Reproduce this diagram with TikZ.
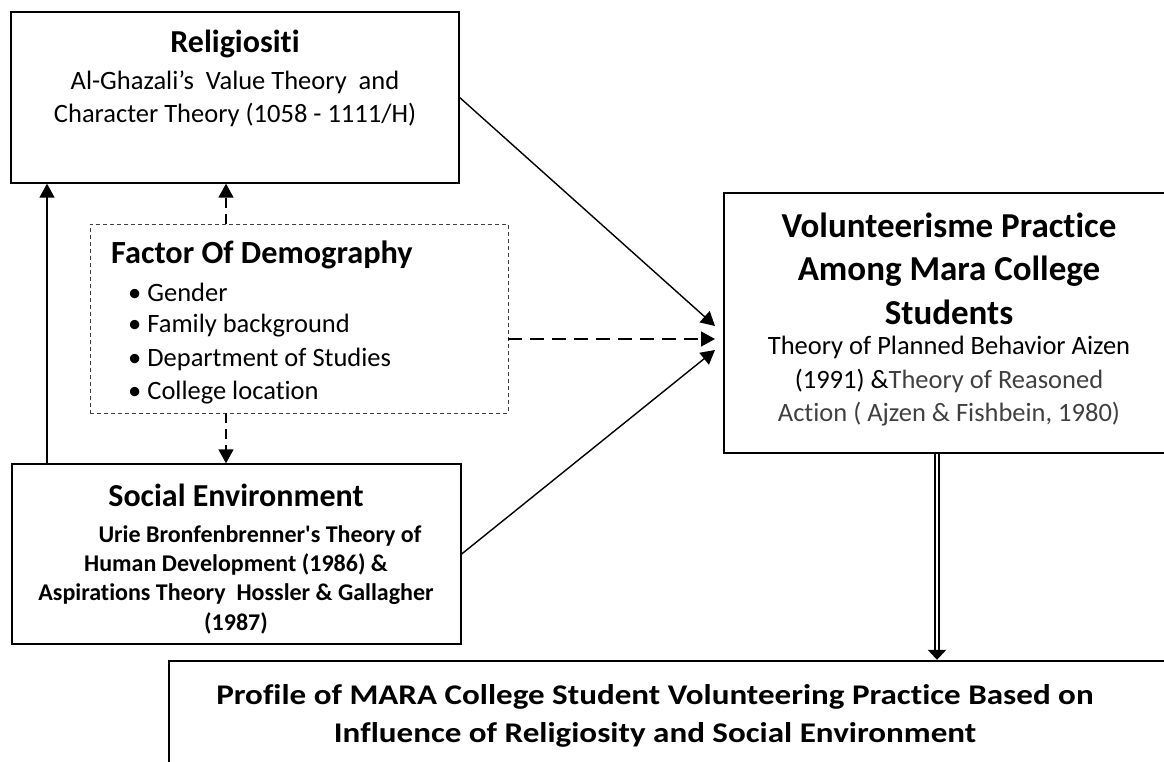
\documentclass[tikz,border=0pt]{standalone}
\usepackage{fontspec}
\setmainfont{Carlito}[Ligatures={NoCommon}]
\usepackage{xcolor}
\usetikzlibrary{arrows.meta,positioning}

\tikzset{
  box/.style={draw, line width=1.3pt, inner sep=0pt},
  dbox/.style={draw=black!75, line width=0.9pt, dash pattern=on 4pt off 3pt, inner sep=0pt},
  arr/.style={line width=1.4pt, -{Triangle[length=14pt,width=15pt]}},
  darr/.style={arr, dash pattern=on 14pt off 8pt},
  vdarr/.style={arr, dash pattern=on 10pt off 6pt},
  txt/.style={align=center, inner sep=0pt}
}

\begin{document}
\begin{tikzpicture}[x=1pt,y=-1pt]
        \useasboundingbox (0,0) rectangle (1164,762);
        \clip (0,0) rectangle (1164,762);

        % religiositi
        \node[box, minimum width=448pt, minimum height=171pt] (relig) at (235,97.5) {};
        \node[txt, font=\fontsize{32}{32}\selectfont\bfseries] (religtitle) at (235,44) {Religiositi};
        \node[txt, font=\fontsize{26.5}{33}\selectfont] (religtext) at (235,98.5)
          {Al-Ghazali’s~ Value Theory~ and\\Character Theory (1058 - 1111/H)};

        % demography
        \node[dbox, minimum width=418pt, minimum height=189pt] (demo) at (299,318.5) {};
        \node[txt, anchor=west, font=\fontsize{32.3}{32}\selectfont\bfseries] (demotitle) at (111,255) {Factor Of Demography};
        \begin{scope}
          \clip (90,224) rectangle (508,403);
          \foreach \item [count=\i] in {Gender, Family background, Department of Studies, College location}
            \node[txt, anchor=west, font=\fontsize{26.5}{30}\selectfont] (demo\i) at (128,258.5+33.5*\i) {\textbullet\ \item};
        \end{scope}

        % social environment
        \node[box, minimum width=449pt, minimum height=180pt] (social) at (236.5,554) {};
        \node[txt, font=\fontsize{32}{32}\selectfont\bfseries] (socialtitle) at (236,495) {Social Environment};
        \node[txt, font=\fontsize{24}{29.3}\selectfont\bfseries] (socialtext) at (236,579.5)
          {\hspace*{48pt}Urie Bronfenbrenner\textquotesingle s Theory of\\Human Development (1986) \&\\Aspirations Theory~ Hossler \& Gallagher\\(1987)};

        % volunteerisme
        \node[box, minimum width=450pt, minimum height=260pt] (vol) at (949,323) {};
        \node[txt, font=\fontsize{35}{43.5}\selectfont\bfseries] (voltitle) at (949,268.5)
          {Volunteerisme Practice\\Among Mara College\\Students};
        \node[txt, font=\fontsize{26.5}{33.5}\selectfont] (voltext) at (949,381.5)
          {Theory of Planned Behavior Aizen\\(1991) \&{\color{black!75}Theory of Reasoned}\\{\color{black!75}Action ( Ajzen \& Fishbein, 1980)}};

        % profile
        \node[box, line width=2.4pt, minimum width=1021pt, minimum height=139pt] (prof) at (679.5,730.5) {};
        \node[txt, font=\fontsize{28.5}{38}\selectfont\bfseries] (proftext) at (655,716)
          {\scalebox{1.16}[1]{Profile of MARA College Student Volunteering Practice Based on}\\
           \scalebox{1.16}[1]{Influence of Religiosity and Social Environment}};

        % arrows
        \coordinate (lft) at (47,0);
        \coordinate (mid) at (226,0);
        \coordinate (down) at (937,0);
        \coordinate (vin1) at (715,326);
        \coordinate (vin2) at (715,339);
        \coordinate (vin3) at (715,350);

        \draw[arr] (social.north -| lft) -- (relig.south -| lft);
        \draw[vdarr] (demo.north -| mid) -- (relig.south -| mid);
        \draw[vdarr] (demo.south -| mid) -- (social.north -| mid);
        \draw[arr] (relig.east) -- (vin1);
        \draw[darr] (demo.east |- vin2) -- (vin2);
        \draw[arr] (social.east) -- (vin3);
        \draw[line width=2.6pt, double, double distance=1.6pt, -{Triangle[length=10pt,width=18pt]}]
          (vol.south -| down) -- (prof.north -| down);

\end{tikzpicture}
\end{document}
